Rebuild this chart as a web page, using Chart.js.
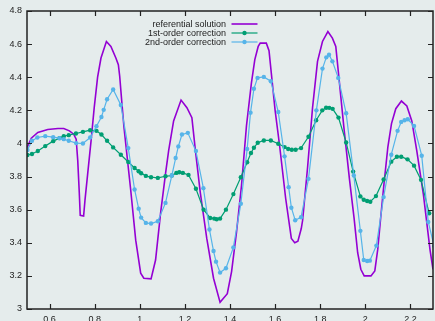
<!DOCTYPE html>
<html>
<head>
<meta charset="UTF-8">
<title>Referential solution vs corrections</title>
<script src="https://cdn.jsdelivr.net/npm/chart.js"></script>
<style>
  html, body { margin: 0; padding: 0; background: #e5ecec; overflow: hidden; }
  #wrap { width: 437px; height: 321px; }
</style>
</head>
<body>
<div id="wrap"><canvas id="chart"></canvas></div>
<script>
// referential solution (dense, no markers)
const refX = [0.500, 0.519, 0.548, 0.592, 0.637, 0.663, 0.688, 0.707, 0.718, 0.725,
              0.732, 0.736, 0.751, 0.757, 0.769, 0.784, 0.798, 0.813, 0.828, 0.852,
              0.872, 0.894, 0.905, 0.911, 0.923, 0.930, 0.960, 0.982, 1.004, 1.018,
              1.050, 1.070, 1.092, 1.114, 1.128, 1.150, 1.183, 1.209, 1.231, 1.246,
              1.268, 1.297, 1.327, 1.356, 1.388, 1.407, 1.429, 1.451, 1.473, 1.495,
              1.510, 1.525, 1.534, 1.561, 1.573, 1.585, 1.600, 1.620, 1.647, 1.672,
              1.687, 1.701, 1.716, 1.722, 1.744, 1.766, 1.788, 1.810, 1.834, 1.854,
              1.869, 1.883, 1.905, 1.930, 1.950, 1.966, 1.980, 1.995, 2.025, 2.042,
              2.055, 2.068, 2.083, 2.100, 2.116, 2.135, 2.160, 2.184, 2.206, 2.228,
              2.257, 2.287, 2.300];
const refY = [3.975, 4.032, 4.066, 4.084, 4.090, 4.090, 4.076, 4.056, 4.026, 3.896,
              3.696, 3.566, 3.562, 3.656, 3.816, 4.016, 4.216, 4.400, 4.516, 4.616,
              4.586, 4.516, 4.476, 4.406, 4.206, 4.096, 3.716, 3.416, 3.216, 3.186,
              3.182, 3.296, 3.576, 3.816, 3.956, 4.136, 4.262, 4.216, 4.156, 3.966,
              3.706, 3.426, 3.186, 3.040, 3.092, 3.226, 3.466, 3.746, 4.106, 4.366,
              4.506, 4.586, 4.606, 4.606, 4.560, 4.400, 4.200, 3.986, 3.666, 3.426,
              3.400, 3.410, 3.486, 3.536, 3.856, 4.216, 4.496, 4.616, 4.676, 4.636,
              4.586, 4.396, 4.096, 3.780, 3.550, 3.340, 3.240, 3.200, 3.200, 3.230,
              3.360, 3.550, 3.760, 3.980, 4.120, 4.210, 4.256, 4.226, 4.136, 3.956,
              3.696, 3.356, 3.240];

// 1st-order correction
const firstX = [0.502, 0.522, 0.548, 0.581, 0.616, 0.644, 0.663, 0.685, 0.717, 0.748,
                0.780, 0.808, 0.830, 0.855, 0.882, 0.916, 0.949, 0.977, 0.995, 1.006,
                1.027, 1.050, 1.080, 1.114, 1.142, 1.162, 1.175, 1.191, 1.216, 1.249,
                1.283, 1.312, 1.330, 1.341, 1.356, 1.382, 1.415, 1.448, 1.476, 1.493,
                1.506, 1.523, 1.550, 1.581, 1.614, 1.642, 1.658, 1.674, 1.691, 1.715,
                1.748, 1.782, 1.809, 1.826, 1.840, 1.855, 1.881, 1.915, 1.946, 1.978,
                1.993, 2.008, 2.022, 2.047, 2.081, 2.115, 2.140, 2.159, 2.187, 2.216,
                2.247, 2.283];
const firstY = [3.930, 3.936, 3.954, 3.984, 4.014, 4.032, 4.044, 4.050, 4.060, 4.070,
                4.080, 4.076, 4.054, 4.016, 3.976, 3.932, 3.888, 3.852, 3.832, 3.820,
                3.804, 3.796, 3.792, 3.802, 3.806, 3.822, 3.826, 3.822, 3.810, 3.726,
                3.600, 3.550, 3.546, 3.542, 3.546, 3.600, 3.694, 3.796, 3.886, 3.942,
                3.974, 4.004, 4.018, 4.018, 3.998, 3.978, 3.966, 3.962, 3.962, 3.972,
                4.040, 4.140, 4.200, 4.216, 4.215, 4.209, 4.156, 4.006, 3.830, 3.680,
                3.660, 3.652, 3.648, 3.682, 3.782, 3.890, 3.920, 3.920, 3.904, 3.866,
                3.780, 3.578];

// 2nd-order correction
const secondX = [0.502, 0.522, 0.546, 0.581, 0.616, 0.644, 0.663, 0.685, 0.718, 0.748,
                 0.780, 0.808, 0.830, 0.840, 0.855, 0.882, 0.916, 0.949, 0.977, 0.995,
                 1.006, 1.027, 1.050, 1.080, 1.114, 1.142, 1.159, 1.171, 1.187, 1.213,
                 1.249, 1.282, 1.309, 1.327, 1.338, 1.356, 1.382, 1.415, 1.448, 1.476,
                 1.491, 1.506, 1.522, 1.550, 1.581, 1.614, 1.642, 1.660, 1.672, 1.689,
                 1.715, 1.748, 1.783, 1.810, 1.827, 1.839, 1.854, 1.880, 1.915, 1.949,
                 1.978, 1.993, 2.008, 2.020, 2.049, 2.081, 2.115, 2.143, 2.159, 2.174,
                 2.188, 2.216, 2.250, 2.279, 2.305];
const secondY = [3.960, 4.016, 4.036, 4.044, 4.038, 4.032, 4.026, 4.016, 4.002, 4.000,
                 4.036, 4.104, 4.160, 4.203, 4.267, 4.326, 4.232, 3.972, 3.722, 3.606,
                 3.552, 3.520, 3.516, 3.530, 3.641, 3.806, 3.912, 3.982, 4.054, 4.064,
                 3.954, 3.730, 3.480, 3.350, 3.286, 3.220, 3.246, 3.372, 3.636, 3.966,
                 4.186, 4.330, 4.396, 4.402, 4.376, 4.190, 3.922, 3.736, 3.612, 3.536,
                 3.554, 3.786, 4.200, 4.452, 4.520, 4.536, 4.496, 4.396, 4.182, 3.806,
                 3.472, 3.296, 3.290, 3.292, 3.383, 3.676, 3.932, 4.076, 4.130, 4.140,
                 4.146, 4.106, 3.926, 3.526, 3.380];

const xTicks = [0.6, 0.8, 1, 1.2, 1.4, 1.6, 1.8, 2, 2.2];
const yTicks = [3, 3.2, 3.4, 3.6, 3.8, 4, 4.2, 4.4, 4.6, 4.8];

const seriesNames = ['referential solution', '1st-order correction', '2nd-order correction'];
const seriesColors = ['#9400d3', '#009e73', '#56b4e9'];

const FONT = '9px "Liberation Sans", Arial, sans-serif';
const INK = '#222';

function pairs(xs, ys) {
  return xs.map((x, i) => ({ x: x, y: ys[i] }));
}

// gnuplot-like frame: border box, inward tics on all four sides, key in the top middle
const framePlugin = {
  id: 'frame',
  afterDatasetsDraw(chart) {
    const ctx = chart.ctx;
    const a = chart.chartArea;
    const xs = chart.scales.x, ys = chart.scales.y;
    const tl = 5;
    ctx.save();
    ctx.strokeStyle = INK;
    ctx.lineWidth = 1.2;
    ctx.beginPath();
    xs.ticks.forEach(t => {
      const px = Math.round(xs.getPixelForValue(t.value)) + 0.5;
      ctx.moveTo(px, a.bottom); ctx.lineTo(px, a.bottom - tl);
      ctx.moveTo(px, a.top); ctx.lineTo(px, a.top + tl);
    });
    ys.ticks.forEach(t => {
      const py = Math.round(ys.getPixelForValue(t.value)) + 0.5;
      ctx.moveTo(a.left, py); ctx.lineTo(a.left + tl, py);
      ctx.moveTo(a.right, py); ctx.lineTo(a.right - tl, py);
    });
    ctx.stroke();
    ctx.lineWidth = 1.5;
    ctx.strokeRect(a.left, a.top, a.right - a.left, a.bottom - a.top);

    // key
    ctx.font = FONT;
    ctx.textAlign = 'right';
    ctx.textBaseline = 'middle';
    chart.data.datasets.forEach((ds, i) => {
      const y = 24 + i * 9;
      ctx.fillStyle = INK;
      ctx.fillText(ds.label, 226, y + 0.5);
      ctx.strokeStyle = ds.borderColor;
      ctx.lineWidth = ds.borderWidth;
      ctx.beginPath();
      ctx.moveTo(231.5, y);
      ctx.lineTo(257.5, y);
      ctx.stroke();
      if (ds.pointRadius > 0) {
        ctx.fillStyle = ds.borderColor;
        ctx.beginPath();
        ctx.arc(244.5, y, ds.pointRadius, 0, Math.PI * 2);
        ctx.fill();
      }
    });
    ctx.restore();
  }
};

const tickFont = { family: '"Liberation Sans", Arial, sans-serif', size: 9 };

new Chart(document.getElementById('chart'), {
  type: 'line',
  data: {
    datasets: [
      {
        label: seriesNames[0],
        data: pairs(refX, refY),
        borderColor: seriesColors[0],
        backgroundColor: seriesColors[0],
        borderWidth: 1.6,
        pointRadius: 0,
        tension: 0,
        order: 3
      },
      {
        label: seriesNames[1],
        data: pairs(firstX, firstY),
        borderColor: seriesColors[1],
        backgroundColor: seriesColors[1],
        borderWidth: 1.2,
        pointRadius: 2.2,
        pointBorderWidth: 0,
        tension: 0,
        order: 2
      },
      {
        label: seriesNames[2],
        data: pairs(secondX, secondY),
        borderColor: seriesColors[2],
        backgroundColor: seriesColors[2],
        borderWidth: 1.2,
        pointRadius: 2.2,
        pointBorderWidth: 0,
        tension: 0,
        order: 1
      }
    ]
  },
  options: {
    responsive: true,
    maintainAspectRatio: false,
    animation: false,
    events: [],
    layout: { padding: { top: 11, right: 1, left: 0, bottom: 0 } },
    plugins: { legend: { display: false }, tooltip: { enabled: false } },
    scales: {
      x: {
        type: 'linear',
        min: 0.5,
        max: 2.3,
        grid: { display: false, drawTicks: false },
        border: { display: false },
        afterBuildTicks: s => { s.ticks = xTicks.map(v => ({ value: v })); },
        afterFit: s => { s.height = 12; },
        ticks: {
          padding: 5,
          color: INK,
          font: tickFont,
          maxRotation: 0,
          autoSkip: false,
          callback: v => String(v)
        }
      },
      y: {
        type: 'linear',
        min: 3,
        max: 4.8,
        grid: { display: false, drawTicks: false },
        border: { display: false },
        afterBuildTicks: s => { s.ticks = yTicks.map(v => ({ value: v })); },
        afterFit: s => { s.width = 27; },
        ticks: {
          padding: 5,
          color: INK,
          font: tickFont,
          autoSkip: false,
          callback: v => String(v)
        }
      }
    }
  },
  plugins: [framePlugin]
});
</script>
</body>
</html>
